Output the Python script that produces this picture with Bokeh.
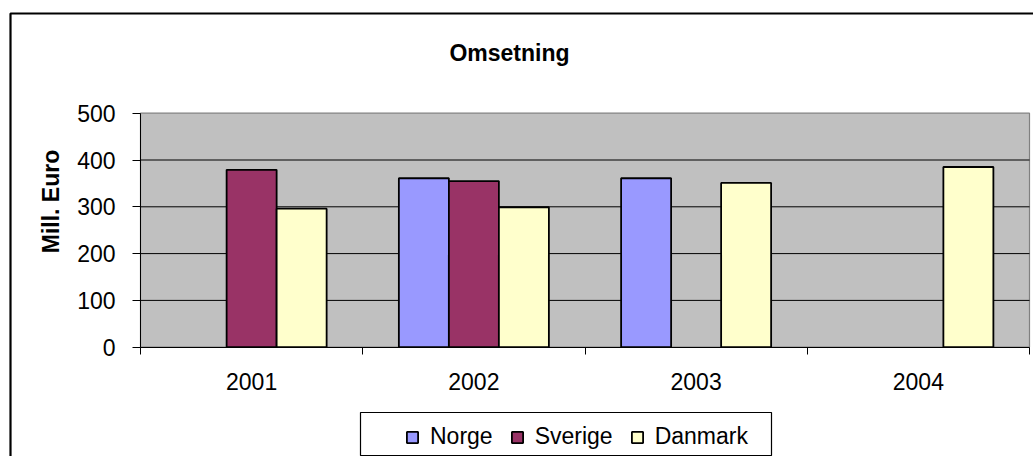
from math import pi
from bokeh.plotting import figure
from bokeh.models import (Range1d, FixedTicker, ColumnDataSource, Legend, LegendItem,
                          BoxAnnotation, Label, LinearAxis)
from bokeh.transform import dodge
from bokeh.embed import file_html
from bokeh.resources import INLINE

# ---- data ----
years = ["2001", "2002", "2003", "2004"]
series_names = ["Norge", "Sverige", "Danmark"]
norge = [None, 361, 361, None]
sverige = [379, 355, None, None]
danmark = [296, 299, 351, 385]
y_ticks = [0, 100, 200, 300, 400, 500]

colors = ["#9999FF", "#993366", "#FFFFCC"]
FONT = "Liberation Sans"

# ---- layout (pixel positions of the plot area on the canvas) ----
CW, CH = 1033, 456
PX_LEFT, PX_RIGHT = 140, 1029      # x = 0 and x = number of categories
PX_BOTTOM, PX_TOP = 346.7, 112.7   # y = 0 and y = ymax
nx = len(years)
ymax = y_ticks[-1]
kx = (PX_RIGHT - PX_LEFT) / nx
ky = (PX_BOTTOM - PX_TOP) / ymax


def px2x(px):
    return (px - PX_LEFT) / kx


def py2y(py):
    return (PX_BOTTOM - py) / ky


p = figure(width=CW, height=CH,
           x_range=Range1d(px2x(0), px2x(CW)), y_range=Range1d(py2y(CH), py2y(0)),
           output_backend="svg", toolbar_location=None, title=None,
           x_axis_location=None, y_axis_location=None,
           min_border=0, min_border_left=0, min_border_right=0,
           min_border_top=0, min_border_bottom=0,
           background_fill_color="white", border_fill_color="white",
           outline_line_color=None)
p.grid.visible = False

# plot area
p.add_layout(BoxAnnotation(left=0, right=nx, bottom=0, top=ymax,
                           fill_color="#C0C0C0", fill_alpha=1.0,
                           line_color="#808080", line_alpha=1.0, line_width=1.2,
                           level="underlay"))

# horizontal gridlines
grid_y = [t for t in y_ticks if 0 < t < ymax]
p.segment(x0=0, x1=nx, y0=grid_y, y1=grid_y, line_color="black", line_width=1)

# bars
bar_w = 0.225
offsets = [-bar_w, 0.0, bar_w]
centers = [i + 0.5 for i in range(nx)]
items = []
for name, vals, col, off in zip(series_names, [norge, sverige, danmark], colors, offsets):
    xs = [c for c, v in zip(centers, vals) if v is not None]
    tops = [v for v in vals if v is not None]
    src = ColumnDataSource(dict(x=xs, top=tops))
    r = p.vbar(x=dodge("x", off, range=p.x_range), top="top", bottom=0, width=bar_w,
               source=src, fill_color=col, line_color="black", line_width=1.8)
    items.append(LegendItem(label=name, renderers=[r]))

# axes
xaxis = LinearAxis(fixed_location=0, bounds=(0, nx),
                   ticker=FixedTicker(ticks=centers, minor_ticks=list(range(nx + 1))),
                   major_label_overrides={c: y for c, y in zip(centers, years)},
                   major_tick_line_color=None, major_tick_out=6, major_tick_in=0,
                   minor_tick_line_color="black", minor_tick_in=0, minor_tick_out=7,
                   axis_line_color="black", major_label_standoff=19,
                   major_label_text_font=FONT, major_label_text_font_size="23px",
                   major_label_text_color="black")
p.add_layout(xaxis, "below")

yaxis = LinearAxis(fixed_location=0, bounds=(0, ymax),
                   ticker=FixedTicker(ticks=y_ticks),
                   major_tick_in=0, major_tick_out=8, major_tick_line_color="black",
                   minor_tick_line_color=None, axis_line_color="black",
                   major_label_standoff=17,
                   major_label_text_font=FONT, major_label_text_font_size="23px",
                   major_label_text_color="black")
p.add_layout(yaxis, "left")

# title and axis label
p.add_layout(Label(x=px2x(509), y=py2y(52), text="Omsetning",
                   text_align="center", text_baseline="alphabetic",
                   text_font=FONT, text_font_size="23px", text_font_style="bold",
                   text_color="black"))
p.add_layout(Label(x=px2x(50), y=py2y(201), text="Mill. Euro", angle=pi / 2,
                   text_align="center", text_baseline="middle",
                   text_font=FONT, text_font_size="23px", text_font_style="bold",
                   text_color="black"))

# legend
legend = Legend(items=items, orientation="horizontal", location=(405, 6),
                padding=0, margin=0, spacing=17, label_standoff=11,
                glyph_width=14, glyph_height=14,
                label_text_font=FONT, label_text_font_size="23px",
                label_text_color="black",
                border_line_alpha=0, background_fill_alpha=0)
p.add_layout(legend, "center")

# legend frame
p.add_layout(BoxAnnotation(left=px2x(360), right=px2x(771), top=py2y(412), bottom=py2y(455),
                           fill_alpha=0, line_color="black", line_alpha=1.0, line_width=1.2))
# outer chart border (left and top edges visible)
p.add_layout(BoxAnnotation(left=px2x(10), right=px2x(CW + 20), top=py2y(13),
                           bottom=py2y(CH + 20),
                           fill_alpha=0, line_color="black", line_alpha=1.0, line_width=2.2))

open("out.html", "w").write(file_html(p, INLINE))
